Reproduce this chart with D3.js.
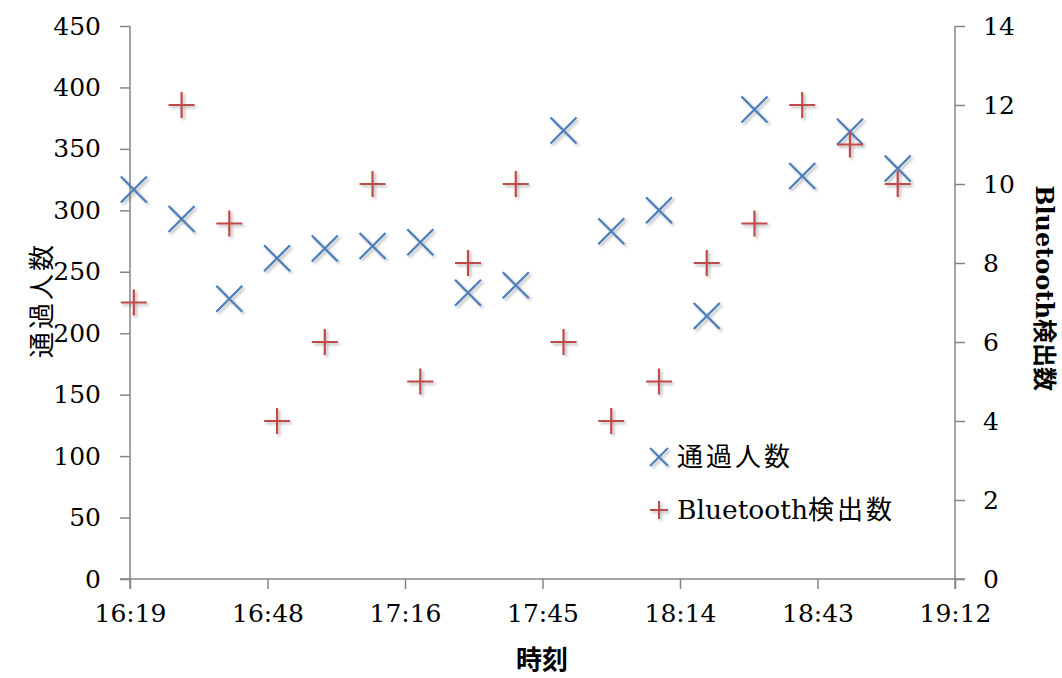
<!DOCTYPE html>
<html><head><meta charset="utf-8">
<script src="https://cdn.jsdelivr.net/npm/d3@7"></script>
<style>body{margin:0;background:#fff}</style>
</head><body>
<svg id="c" width="1062" height="678"></svg>
<script>
const times = ["16:20","16:30","16:40","16:50","17:00","17:10","17:20","17:30","17:40","17:50","18:00","18:10","18:20","18:30","18:40","18:50","19:00"];
const passers = [317,293,228,261,269,271,274,233,239,365,283,300,214,382,328,364,334];
const bluetooth = [7,12,9,4,6,10,5,8,10,6,4,5,8,9,12,11,10];
const xTickLabels = ["16:19","16:48","17:16","17:45","18:14","18:43","19:12"];
const leftTicks = [0,50,100,150,200,250,300,350,400,450];
const rightTicks = [0,2,4,6,8,10,12,14];
const seriesNames = ["通過人数","Bluetooth検出数"];

const FONT = "'DejaVu Serif','Noto Sans CJK JP',serif";
const CJK = "'Noto Sans CJK JP',sans-serif";
const svg = d3.select("#c");
const L = 130, R = 955, T = 26, B = 579;
const toMin = s => { const [h,m] = s.split(":").map(Number); return h*60+m; };
const x0 = 16*60+19.2, x1 = x0 + 0.12*24*60;
const x = d3.scaleLinear().domain([x0,x1]).range([L,R]);
const yL = d3.scaleLinear().domain([0,450]).range([B,T]);
const yR = d3.scaleLinear().domain([0,14]).range([B,T]);
const tickVals = xTickLabels.map((d,i)=> x0 + i*0.02*24*60);

const defs = svg.append("defs");
const f = defs.append("filter").attr("id","sh").attr("x","-50%").attr("y","-50%").attr("width","200%").attr("height","200%");
f.append("feGaussianBlur").attr("in","SourceAlpha").attr("stdDeviation",1.5).attr("result","b");
f.append("feOffset").attr("dx",1.5).attr("dy",2).attr("result","o");
f.append("feComponentTransfer").append("feFuncA").attr("type","linear").attr("slope",0.3);
const m = f.append("feMerge"); m.append("feMergeNode"); m.append("feMergeNode").attr("in","SourceGraphic");

const axisColor = "#868686";
function styleAxis(g){
  g.select(".domain").attr("stroke",axisColor).attr("stroke-width",1.5);
  g.selectAll(".tick line").attr("stroke",axisColor).attr("stroke-width",1.5);
  g.selectAll("text").attr("font-family",FONT).attr("font-size",25).attr("fill","#000");
}
const gx = svg.append("g").attr("transform",`translate(0,${B})`)
  .call(d3.axisBottom(x).tickValues(tickVals).tickFormat((d,i)=>xTickLabels[i]).tickSize(10).tickSizeOuter(0).tickPadding(15));
styleAxis(gx);
const gl = svg.append("g").attr("transform",`translate(${L},0)`)
  .call(d3.axisLeft(yL).tickValues(leftTicks).tickSize(10).tickSizeOuter(0).tickPadding(19));
styleAxis(gl);
gl.select(".domain").attr("d",`M0,${T}V${B+10}`);
const gr = svg.append("g").attr("transform",`translate(${R},0)`)
  .call(d3.axisRight(yR).tickValues(rightTicks).tickSize(10).tickSizeOuter(0).tickPadding(18));
styleAxis(gr);
gr.select(".domain").attr("d",`M0,${T}V${B+10}`);
gx.select(".domain").attr("d",`M${L-10},0H${R+10}`);

const blue = "#4a7ebb", red = "#be4b48", s = 13;
const xMark = (g,cx,cy)=> g.append("path").attr("d",`M${cx-s},${cy-s}L${cx+s},${cy+s}M${cx-s},${cy+s}L${cx+s},${cy-s}`).attr("stroke",blue).attr("stroke-width",2.2).attr("fill","none");
const pMark = (g,cx,cy)=> g.append("path").attr("d",`M${cx-s},${cy}H${cx+s}M${cx},${cy-s}V${cy+s}`).attr("stroke",red).attr("stroke-width",2.2).attr("fill","none");

const gm = svg.append("g").attr("filter","url(#sh)");
times.forEach((t,i)=>{ xMark(gm, x(toMin(t)), yL(passers[i])); });
times.forEach((t,i)=>{ pMark(gm, x(toMin(t)), yR(bluetooth[i])); });

// legend
const lg = svg.append("g");
const lx = 659;
const s2 = 9;
lg.append("path").attr("d",`M${lx-s2},${457-s2}L${lx+s2},${457+s2}M${lx-s2},${457+s2}L${lx+s2},${457-s2}`).attr("stroke",blue).attr("stroke-width",2).attr("filter","url(#sh)");
lg.append("path").attr("d",`M${lx-s2},510H${lx+s2}M${lx},${510-s2}V${510+s2}`).attr("stroke",red).attr("stroke-width",2).attr("filter","url(#sh)");
lg.append("text").attr("x",677).attr("y",457).attr("dy","0.35em").attr("font-family",CJK).attr("font-size",26).attr("letter-spacing",3).text(seriesNames[0]);
const t2 = lg.append("text").attr("x",677).attr("y",510).attr("dy","0.35em").attr("font-family",FONT).attr("font-size",26.5);
t2.append("tspan").text(seriesNames[1].slice(0,9));
t2.append("tspan").attr("font-family",CJK).attr("font-size",26).attr("letter-spacing",3).text(seriesNames[1].slice(9));

// axis titles
svg.append("text").attr("transform","translate(42,300) rotate(-90)").attr("text-anchor","middle").attr("dy","0.35em")
  .attr("font-family",CJK).attr("font-size",26).attr("letter-spacing",3).text("通過人数");
svg.append("text").attr("transform","translate(1044,288) rotate(90)").attr("text-anchor","middle").attr("dy","0.35em")
  .attr("font-family",FONT).attr("font-size",24).attr("font-weight","bold").text("Bluetooth検出数");
svg.append("text").attr("x",542).attr("y",660).attr("text-anchor","middle").attr("dy","0.35em")
  .attr("font-family",CJK).attr("font-size",26).attr("font-weight","bold").text("時刻");
</script>
</body></html>
